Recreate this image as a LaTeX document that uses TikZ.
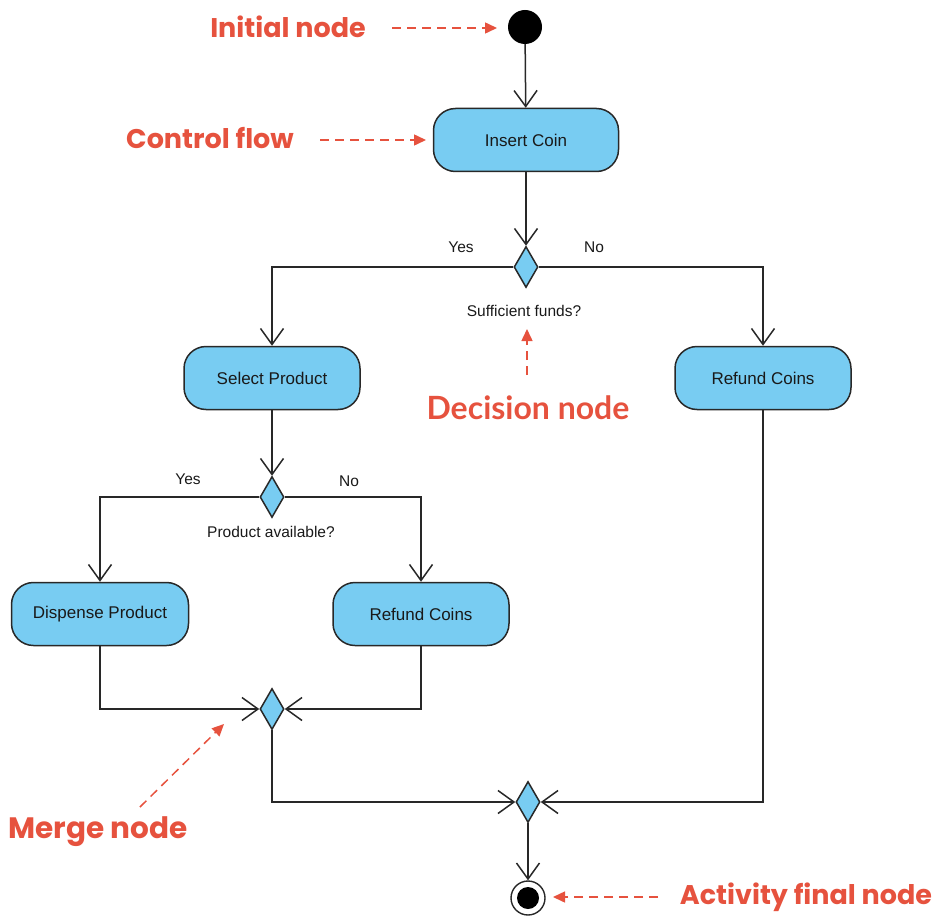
\documentclass[tikz,border=0pt]{standalone}
\usepackage{fontspec}
\setmainfont{Liberation Sans}
\newfontfamily\notefont{Poppins}
\newfontfamily\decnotefont{Lato}
\usetikzlibrary{arrows.meta,shapes.geometric}

\definecolor{actfill}{RGB}{120,204,242}
\definecolor{linec}{RGB}{40,40,40}
\definecolor{notered}{RGB}{230,82,62}

\tikzset{
  act/.style={draw=linec, fill=actfill, line width=1.5pt, rounded corners=22pt,
    minimum width=176pt, minimum height=63pt, inner sep=0pt,
    font=\fontsize{17}{19}\selectfont, text=black!90},
  dec/.style={diamond, draw=linec, fill=actfill, line width=1.5pt,
    minimum width=24pt, minimum height=41pt, inner sep=0pt},
  startdot/.style={circle, fill=black, minimum size=34pt, inner sep=0pt},
  flow/.style={draw=linec, line width=1.5pt,
    -{Straight Barb[length=16pt,width=23pt,line width=1.5pt]}},
  guard/.style={font=\fontsize{15.5}{17}\selectfont, text=black!90, inner sep=0pt},
  note/.style={font=\notefont\bfseries\fontsize{27}{30}\selectfont, text=notered, inner sep=0pt},
  pointer/.style={draw=notered, line width=1.5pt, dash pattern=on 9pt off 6pt,
    -{Triangle[length=12pt,width=11pt]}}
}

\begin{document}
\begin{tikzpicture}[x=1pt,y=-1pt]
\useasboundingbox (0,0) rectangle (941,917);

% start and end of the activity
\node[startdot] (init) at (525,27) {};
\node[circle, draw=linec, fill=white, line width=1.4pt, minimum size=34pt, inner sep=0pt] (fin) at (528,898) {};
\node[circle, fill=black, minimum size=22pt, inner sep=0pt] (finin) at (fin.center) {};

% actions
\node[act, minimum width=185pt] (ins)  at (526,140) {Insert Coin};
\node[act] (sel)  at (272,378) {Select Product};
\node[act] (ref1) at (763,378) {Refund Coins};
\node[act, minimum width=177pt] (disp) at (100,614) {Dispense Product};
\node[act] (ref2) at (421,614) {Refund Coins};

% decisions and merges
\node[dec] (d1) at (526,267) {};
\node[dec] (d2) at (272,497) {};
\node[dec] (m1) at (272,709) {};
\node[dec] (m2) at (528,802) {};

% guards
\node[guard] (y1) at (461,247) {Yes};
\node[guard] (n1) at (594,247) {No};
\node[guard] (q1) at (524,311) {Sufficient funds?};
\node[guard] (y2) at (188,479) {Yes};
\node[guard] (n2) at (349,481) {No};
\node[guard] (q2) at (271,532) {Product available?};

% control flows
\draw[flow] (init) -- (ins);
\draw[flow] (ins) -- (d1);
\draw[flow] (d1.west) -| (sel.north);
\draw[flow] (d1.east) -| (ref1.north);
\draw[flow] (sel) -- (d2);
\draw[flow] (d2.west) -| (disp.north);
\draw[flow] (d2.east) -| (ref2.north);
\draw[flow] (disp.south) |- (m1.west);
\draw[flow] (ref2.south) |- (m1.east);
\draw[flow] (m1.south) |- (m2.west);
\draw[flow] (ref1.south) |- (m2.east);
\draw[flow] (m2.south) -- (fin.north);

% annotations
\node[note] (tInit) at (288,27) {Initial node};
\node[note] (tCtrl) at (210,138) {Control flow};
\node[note, font=\decnotefont\bfseries\fontsize{32}{35}\selectfont] (tDec) at (528,408) {Decision node};
\node[note, font=\notefont\bfseries\fontsize{29.5}{32}\selectfont] (tMerge) at (98,832) {Merge node};
\node[note] (tFin) at (806,897) {Activity final node};

\coordinate (pInitA) at (392,28);
\coordinate (pInitB) at (497,28);
\coordinate (pCtrlA) at (320,140);
\coordinate (pCtrlB) at (426,140);
\coordinate (pDecA) at (527,375);
\coordinate (pDecB) at (527,329);
\coordinate (pMergeA) at (140,807);
\coordinate (pMergeB) at (224,724);
\coordinate (pFinA) at (658,897);
\coordinate (pFinB) at (553,897);

\draw[pointer] (pInitA) -- (pInitB);
\draw[pointer] (pCtrlA) -- (pCtrlB);
\draw[pointer] (pDecA) -- (pDecB);
\draw[pointer] (pMergeA) -- (pMergeB);
\draw[pointer] (pFinA) -- (pFinB);
\end{tikzpicture}
\end{document}
